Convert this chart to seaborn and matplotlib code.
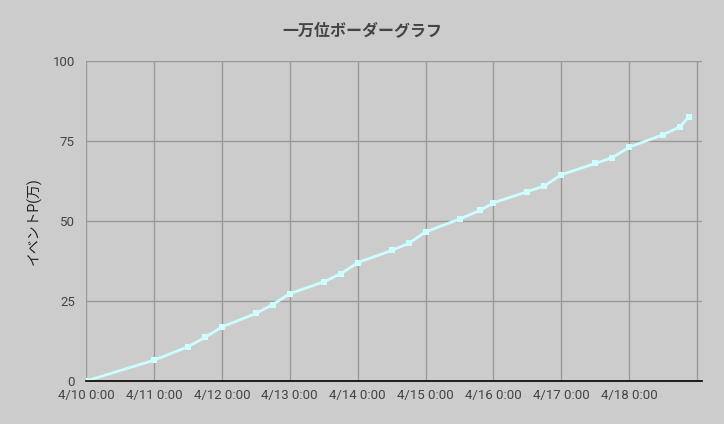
import pandas as pd
import seaborn as sns
import matplotlib.pyplot as plt
import matplotlib.dates as mdates
from matplotlib.ticker import FuncFormatter

# データ (4/10 0:00 からの経過日数, イベントP 万)
days = [0, 1, 1.5, 1.75, 2, 2.5, 2.75, 3, 3.5, 3.75, 4, 4.5, 4.75, 5,
        5.5, 5.8, 6, 6.5, 6.75, 7, 7.5, 7.75, 8, 8.5, 8.75, 8.875]
points = [0, 6.5, 10.7, 13.6, 16.9, 21.1, 23.9, 27.3, 31.0, 33.5, 37.0, 40.8, 43.0, 46.6,
          50.6, 53.3, 55.7, 59.2, 61.0, 64.5, 68.0, 69.8, 73.1, 77.0, 79.5, 82.6]
y_ticks = [0, 25, 50, 75, 100]

start = pd.Timestamp("2020-04-10 00:00")
df = pd.DataFrame({
    "time": [start + pd.Timedelta(days=d) for d in days],
    "point": points,
})

sns.set_theme(style="whitegrid")
plt.rcParams["font.family"] = ["Roboto", "Noto Sans CJK JP", "DejaVu Sans"]

fig = plt.figure(figsize=(7.24, 4.24), dpi=100, facecolor="#cccccc")
ax = fig.add_axes([0.1188, 0.1014, 0.8508, 0.7546])
ax.set_facecolor("#cccccc")

sns.lineplot(data=df, x="time", y="point", ax=ax, color="#ccffff",
             linewidth=2, marker="s", markersize=5, markeredgewidth=0)


def fmt_date(v, pos):
    d = mdates.num2date(v)
    return "{}/{} {}:{:02d}".format(d.month, d.day, d.hour, d.minute)


# 軸とグリッド
tick_days = [start + pd.Timedelta(days=i) for i in range(9)]
ax.set_xticks(tick_days)
ax.xaxis.set_major_formatter(FuncFormatter(fmt_date))
ax.set_xlim(start, start + pd.Timedelta(days=9.07))
ax.axvline(start + pd.Timedelta(days=9), color="#999999", linewidth=1, zorder=0.5)
ax.set_yticks(y_ticks)
ax.set_ylim(0, 100)

ax.grid(True, color="#999999", linewidth=1)
ax.tick_params(axis="y", length=5, color="#999999", labelsize=9.5, labelcolor="#444444", pad=3)
ax.tick_params(axis="x", length=0, labelsize=9.5, labelcolor="#444444", pad=6)
for side in ["top", "right", "left"]:
    ax.spines[side].set_visible(False)
ax.spines["bottom"].set_color("black")
ax.spines["bottom"].set_linewidth(1.2)

ax.set_xlabel("")
ax.set_ylabel("イベントP(万)", fontsize=10, color="#222222", labelpad=8)
fig.text(0.5, 0.928, "一万位ボーダーグラフ", ha="center", va="center",
         fontsize=11.5, fontweight="bold", color="#444444")

fig.savefig("out.png", dpi=100, facecolor=fig.get_facecolor())
